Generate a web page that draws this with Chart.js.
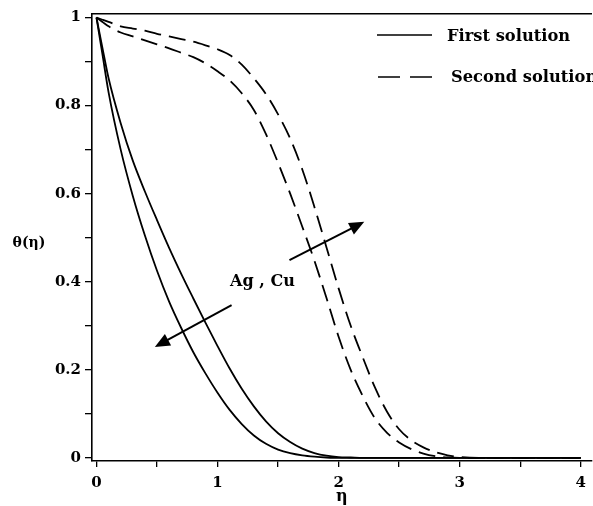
<!DOCTYPE html>
<html><head><meta charset="utf-8">
<script src="https://cdn.jsdelivr.net/npm/chart.js@4.4.0/dist/chart.umd.min.js"></script>
<style>html,body{margin:0;padding:0;background:#fff;}#wrap{width:593px;height:506px;}</style>
</head><body><div id="wrap"><canvas id="c" width="593" height="506"></canvas></div>
<script>
// ---- data ----
const etaValues = [0,0.05,0.1,0.2,0.3,0.4,0.5,0.6,0.7,0.8,0.9,1.0,1.1,1.2,1.3,1.4,1.5,1.6,1.7,1.8,1.9,2.0,2.1,2.2,2.3,2.4,2.5,2.6,2.7,2.8,2.9,3.0,3.2,3.5,4.0];
const thetaFirstInner = [1,0.915,0.83,0.70,0.595,0.505,0.425,0.355,0.295,0.24,0.192,0.148,0.109,0.077,0.051,0.032,0.019,0.011,0.006,0.003,0.001,0,0,0,0,0,0,0,0,0,0,0,0,0,0];
const thetaFirstOuter = [1,0.93,0.862,0.76,0.675,0.605,0.54,0.477,0.418,0.362,0.307,0.254,0.203,0.157,0.117,0.083,0.056,0.036,0.021,0.011,0.005,0.002,0.001,0,0,0,0,0,0,0,0,0,0,0,0];
const thetaSecondUpper = [1,0.995,0.99,0.98,0.975,0.97,0.963,0.957,0.951,0.945,0.937,0.928,0.915,0.893,0.862,0.826,0.78,0.725,0.655,0.57,0.478,0.385,0.30,0.228,0.16,0.105,0.065,0.04,0.024,0.013,0.006,0.002,0,0,0];
const thetaSecondLower = [1,0.99,0.98,0.966,0.957,0.948,0.939,0.93,0.92,0.91,0.896,0.878,0.857,0.828,0.79,0.735,0.67,0.60,0.525,0.448,0.363,0.275,0.20,0.14,0.09,0.057,0.035,0.02,0.01,0.004,0.001,0,0,0,0];
const xTickValues = [0,0.5,1,1.5,2,2.5,3,3.5,4];
const xTickLabels = ['0','','1','','2','','3','','4'];
const yTickValues = [0,0.1,0.2,0.3,0.4,0.5,0.6,0.7,0.8,0.9,1];
const yTickLabels = ['0','','0.2','','0.4','','0.6','','0.8','','1'];
const legendLabels = ['First solution','Second solution'];
const annotationText = 'Ag , Cu';
const xAxisTitle = 'η';
const yAxisTitle = 'θ(η)';

// ---- chart ----
const FONT = '"DejaVu Serif", "Liberation Serif", serif';
const toPts = arr => etaValues.map((e,i)=>({x:e,y:arr[i]}));
const solid = {borderColor:'#000',borderWidth:1.8,pointRadius:0,cubicInterpolationMode:'monotone',fill:false};
const dashed = Object.assign({}, solid, {borderDash:[17,8]});
const labelFor = (vals, labs) => (v) => { const i = vals.findIndex(t=>Math.abs(t-v)<1e-9); return i<0?'':labs[i]; };

const overlay = {
  id:'overlay',
  afterDraw(chart){
    const {ctx, scales:{x,y}} = chart;
    ctx.save();
    ctx.fillStyle='#000'; ctx.strokeStyle='#000';
    // y-axis title (horizontal)
    ctx.font = 'bold 14px '+FONT; ctx.textAlign='center'; ctx.textBaseline='middle';
    ctx.fillText(yAxisTitle, 29, 243);
    // legend
    ctx.lineWidth=1.6;
    ctx.beginPath(); ctx.setLineDash([]); ctx.moveTo(377,35); ctx.lineTo(432,35); ctx.stroke();
    ctx.beginPath(); ctx.setLineDash([22,10]); ctx.moveTo(378,77); ctx.lineTo(432,77); ctx.stroke();
    ctx.setLineDash([]);
    ctx.font = 'bold 16.3px '+FONT; ctx.textAlign='left';
    ctx.fillText(legendLabels[0], 447, 37);
    ctx.fillText(legendLabels[1], 451, 78);
    // arrows (data coordinates)
    const arrows = [[[1.116,0.347],[0.482,0.252]],[[1.594,0.449],[2.212,0.536]]];
    arrows.forEach(([a,b])=>{
      const x0=x.getPixelForValue(a[0]), y0=y.getPixelForValue(a[1]);
      const x1=x.getPixelForValue(b[0]), y1=y.getPixelForValue(b[1]);
      const ang=Math.atan2(y1-y0,x1-x0), L=15, W=6.5;
      ctx.lineWidth=2;
      ctx.beginPath(); ctx.moveTo(x0,y0);
      ctx.lineTo(x1-Math.cos(ang)*L*0.8, y1-Math.sin(ang)*L*0.8); ctx.stroke();
      ctx.beginPath(); ctx.moveTo(x1,y1);
      ctx.lineTo(x1-Math.cos(ang)*L-Math.sin(ang)*W, y1-Math.sin(ang)*L+Math.cos(ang)*W);
      ctx.lineTo(x1-Math.cos(ang)*L+Math.sin(ang)*W, y1-Math.sin(ang)*L-Math.cos(ang)*W);
      ctx.closePath(); ctx.fill();
    });
    ctx.font = 'bold 16px '+FONT; ctx.textAlign='center';
    ctx.fillText(annotationText, x.getPixelForValue(1.371), y.getPixelForValue(0.40));
    ctx.restore();
  }
};

new Chart(document.getElementById('c'), {
  type:'line',
  data:{datasets:[
    Object.assign({label:legendLabels[0], data:toPts(thetaFirstInner)}, solid),
    Object.assign({label:legendLabels[0], data:toPts(thetaFirstOuter)}, solid),
    Object.assign({label:legendLabels[1], data:toPts(thetaSecondUpper)}, dashed),
    Object.assign({label:legendLabels[1], data:toPts(thetaSecondLower)}, dashed)
  ]},
  options:{
    responsive:false, animation:false, devicePixelRatio:1,
    layout:{padding:{top:14,left:0,right:0,bottom:0}},
    plugins:{legend:{display:false},tooltip:{enabled:false}},
    scales:{
      x:{type:'linear',position:'bottom',min:-0.037,max:4.09,
        afterBuildTicks:s=>{s.ticks=xTickValues.map(v=>({value:v}));},
        afterFit:s=>{s.height=45;},
        ticks:{autoSkip:false,maxRotation:0,padding:7,color:'#000',font:{family:FONT,weight:'bold',size:15},callback:labelFor(xTickValues,xTickLabels)},
        grid:{drawOnChartArea:false,drawTicks:true,tickLength:6,color:'#000',lineWidth:1.3},
        border:{display:true,color:'#000',width:1.6},
        title:{display:true,text:xAxisTitle,color:'#000',font:{family:FONT,weight:'bold',size:16},padding:{top:0,bottom:0}}
      },
      xTop:{type:'linear',position:'top',min:-0.037,max:4.09,
        afterFit:s=>{s.height=0;},
        ticks:{display:false},grid:{display:false},
        border:{display:true,color:'#000',width:1.6}
      },
      y:{type:'linear',min:-0.007,max:1.008,
        afterBuildTicks:s=>{s.ticks=yTickValues.map(v=>({value:v}));},
        afterFit:s=>{s.width=92;},
        ticks:{autoSkip:false,padding:4,color:'#000',font:{family:FONT,weight:'bold',size:15},callback:labelFor(yTickValues,yTickLabels)},
        grid:{drawOnChartArea:false,drawTicks:true,tickLength:7,color:'#000',lineWidth:1.3},
        border:{display:true,color:'#000',width:1.6}
      }
    }
  },
  plugins:[overlay]
});
</script></body></html>
